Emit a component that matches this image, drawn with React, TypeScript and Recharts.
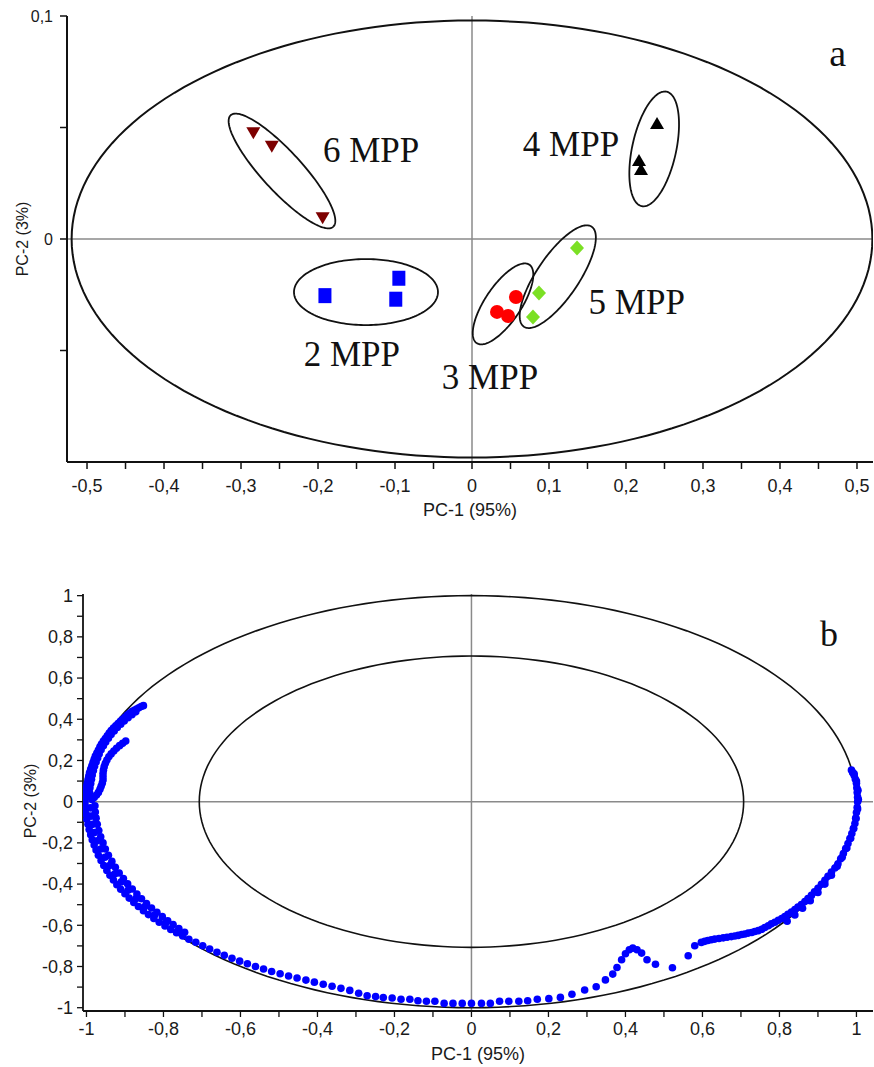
import React from "react";
import { ScatterChart, Scatter, XAxis, YAxis, ReferenceLine } from "recharts";

type Pt = [number, number];

// ---------- (a) PCA scores ----------
const scores6MPP: Pt[] = [[-0.284, 0.0474], [-0.26, 0.0414], [-0.194, 0.0093]];
const scores2MPP: Pt[] = [[-0.191, -0.0254], [-0.095, -0.0176], [-0.099, -0.027]];
const scores3MPP: Pt[] = [[0.0325, -0.0327], [0.0468, -0.0345], [0.0571, -0.026]];
const scores4MPP: Pt[] = [[0.2403, 0.052], [0.2169, 0.0354], [0.2195, 0.0314]];
const scores5MPP: Pt[] = [[0.1364, -0.004], [0.087, -0.0242], [0.0792, -0.035]];

// cluster ellipses: centre x, centre y, semi-axis u (x, y), semi-axis v (x, y)
const ellipse6MPP = [-0.2468, 0.0305, 0.0666, -0.025, -0.0191, -0.00607];
const ellipse2MPP = [-0.1377, -0.0238, 0.0935, 0, 0, 0.0148];
const ellipse3MPP = [0.0403, -0.0291, 0.0342, 0.01758, 0.0194, -0.0045];
const ellipse5MPP = [0.1114, -0.0169, 0.044, 0.02242, 0.0226, -0.00529];
const ellipse4MPP = [0.2366, 0.0404, 0.0162, 0.02565, 0.0279, -0.00211];
const ellipseHotelling = [0, 0, 0.52, 0, 0, 0.098];

const groupLabels = ["6 MPP", "4 MPP", "2 MPP", "3 MPP", "5 MPP"];
const groupLabelX = [-0.131, 0.1286, -0.156, 0.0234, 0.214];
const groupLabelY = [0.0399, 0.0422, -0.052, -0.0623, -0.0283];

const topXTicks = [-0.5, -0.45, -0.4, -0.35, -0.3, -0.25, -0.2, -0.15, -0.1, -0.05, 0, 0.05, 0.1, 0.15, 0.2, 0.25, 0.3, 0.35, 0.4, 0.45, 0.5];
const topYTicks = [-0.05, 0, 0.05, 0.1];
const topYLabelled = [0, 0.1];

// ---------- (b) correlation loadings ----------
const loadingsUpperLeft: Pt[] = [
  [-0.852, 0.466], [-0.858, 0.462], [-0.864, 0.456], [-0.87, 0.45], [-0.876, 0.444], [-0.882, 0.437],
  [-0.888, 0.429], [-0.894, 0.42], [-0.9, 0.41], [-0.906, 0.4], [-0.912, 0.39], [-0.918, 0.379],
  [-0.924, 0.368], [-0.93, 0.357], [-0.936, 0.345], [-0.941, 0.333], [-0.946, 0.32], [-0.951, 0.307],
  [-0.956, 0.294], [-0.961, 0.28], [-0.965, 0.266], [-0.969, 0.251], [-0.973, 0.236], [-0.977, 0.221],
  [-0.98, 0.206], [-0.983, 0.19], [-0.986, 0.174], [-0.989, 0.158], [-0.992, 0.141], [-0.994, 0.124],
  [-0.996, 0.107], [-0.998, 0.09], [-1.0, 0.073], [-1.001, 0.056], [-1.002, 0.039], [-1.003, 0.022],
  [-1.004, 0.005],
  [-0.872, 0.436], [-0.882, 0.422], [-0.892, 0.407], [-0.902, 0.392], [-0.911, 0.376], [-0.92, 0.36],
  [-0.928, 0.343], [-0.936, 0.326], [-0.943, 0.308], [-0.95, 0.29], [-0.956, 0.271], [-0.962, 0.252],
  [-0.967, 0.232], [-0.971, 0.212], [-0.975, 0.192], [-0.979, 0.172], [-0.982, 0.151], [-0.985, 0.13],
  [-0.987, 0.109], [-0.989, 0.088], [-0.991, 0.067], [-0.992, 0.046], [-0.993, 0.025],
  [-0.898, 0.294], [-0.906, 0.283], [-0.914, 0.272], [-0.922, 0.259], [-0.929, 0.246], [-0.936, 0.232],
  [-0.942, 0.218], [-0.947, 0.202], [-0.951, 0.186], [-0.954, 0.17], [-0.956, 0.153], [-0.957, 0.137],
  [-0.957, 0.121], [-0.957, 0.105], [-0.959, 0.09], [-0.962, 0.075], [-0.965, 0.06], [-0.969, 0.045],
  [-0.974, 0.032], [-0.98, 0.02], [-0.986, 0.01],
];
const loadingsLowerLeft: Pt[] = [
  [-1.004, -0.01], [-1.003, -0.035], [-1.001, -0.06], [-0.999, -0.085], [-0.996, -0.11], [-0.993, -0.135],
  [-0.989, -0.16], [-0.985, -0.185], [-0.98, -0.21], [-0.975, -0.235], [-0.969, -0.26], [-0.962, -0.285],
  [-0.955, -0.31], [-0.947, -0.334], [-0.939, -0.357], [-0.93, -0.38], [-0.921, -0.403], [-0.911, -0.425],
  [-0.9, -0.447], [-0.889, -0.468], [-0.877, -0.489], [-0.865, -0.509], [-0.852, -0.529], [-0.839, -0.548],
  [-0.825, -0.567], [-0.811, -0.585], [-0.796, -0.603], [-0.781, -0.62], [-0.766, -0.636], [-0.75, -0.652],
  [-0.734, -0.668],
  [-0.99, -0.03], [-0.988, -0.07], [-0.984, -0.11], [-0.979, -0.15], [-0.972, -0.19], [-0.963, -0.23],
  [-0.952, -0.27], [-0.94, -0.31], [-0.926, -0.35], [-0.91, -0.39], [-0.892, -0.43], [-0.871, -0.47],
  [-0.849, -0.51], [-0.823, -0.55], [-0.795, -0.59], [-0.764, -0.63],
  [-0.978, -0.02], [-0.977, -0.05], [-0.975, -0.08], [-0.972, -0.11], [-0.968, -0.14], [-0.963, -0.17],
  [-0.957, -0.2], [-0.951, -0.23], [-0.943, -0.26], [-0.934, -0.29], [-0.925, -0.318], [-0.915, -0.346],
  [-0.904, -0.373], [-0.893, -0.399], [-0.881, -0.424], [-0.869, -0.448], [-0.857, -0.471], [-0.844, -0.494],
  [-0.831, -0.516], [-0.817, -0.537], [-0.803, -0.558], [-0.789, -0.578], [-0.775, -0.597], [-0.76, -0.616],
  [-0.745, -0.634],
  [-0.716, -0.682], [-0.698, -0.699], [-0.68, -0.715], [-0.661, -0.731], [-0.642, -0.746], [-0.622, -0.76],
  [-0.602, -0.774], [-0.582, -0.787], [-0.561, -0.8], [-0.54, -0.812], [-0.519, -0.824], [-0.497, -0.835],
  [-0.475, -0.846], [-0.453, -0.856], [-0.43, -0.866], [-0.408, -0.876], [-0.385, -0.886], [-0.362, -0.896],
  [-0.339, -0.906], [-0.316, -0.916], [-0.293, -0.93],
];
const loadingsBottom: Pt[] = [
  [-0.271, -0.942], [-0.249, -0.946], [-0.229, -0.951], [-0.206, -0.953], [-0.183, -0.959], [-0.16, -0.959],
  [-0.139, -0.966], [-0.117, -0.969], [-0.095, -0.969], [-0.071, -0.979], [-0.048, -0.979], [-0.024, -0.979],
  [0, -0.979], [0.026, -0.979], [0.049, -0.979], [0.073, -0.969], [0.097, -0.969], [0.123, -0.969],
  [0.146, -0.966], [0.171, -0.959], [0.201, -0.956], [0.231, -0.95], [0.261, -0.935], [0.294, -0.914],
  [0.324, -0.898],
];
const loadingsBump: Pt[] = [
  [0.348, -0.865], [0.367, -0.837], [0.378, -0.805], [0.39, -0.767], [0.4, -0.738], [0.41, -0.719],
  [0.419, -0.711], [0.43, -0.719], [0.442, -0.735], [0.456, -0.767], [0.478, -0.789], [0.522, -0.806],
];
const loadingsRight: Pt[] = [
  [0.563, -0.748], [0.58, -0.699], [0.597, -0.683], [0.614, -0.674], [0.632, -0.667], [0.654, -0.661],
  [0.675, -0.655], [0.693, -0.649], [0.71, -0.642], [0.728, -0.635], [0.745, -0.626], [0.762, -0.611],
  [0.779, -0.593], [0.797, -0.576], [0.814, -0.558], [0.831, -0.536], [0.848, -0.512], [0.866, -0.485],
  [0.883, -0.455], [0.9, -0.42], [0.918, -0.382], [0.935, -0.342], [0.952, -0.301], [0.959, -0.277],
  [0.966, -0.252], [0.972, -0.228], [0.978, -0.203], [0.983, -0.179], [0.988, -0.155], [0.992, -0.13],
  [0.996, -0.106], [0.998, -0.08], [1.0, -0.053], [1.002, -0.027], [1.003, 0.0], [1.003, 0.022],
  [1.002, 0.045], [1.001, 0.067], [1.0, 0.089], [0.997, 0.11], [0.994, 0.128], [0.99, 0.142], [0.987, 0.154],
  [0.606, -0.678], [0.623, -0.67], [0.643, -0.664], [0.664, -0.658], [0.684, -0.652], [0.702, -0.645],
  [0.719, -0.638], [0.736, -0.63], [0.754, -0.619], [0.771, -0.602], [0.788, -0.585], [0.806, -0.567],
  [0.822, -0.547], [0.84, -0.524], [0.857, -0.499], [0.874, -0.47], [0.891, -0.438], [0.909, -0.401],
  [0.926, -0.362], [0.944, -0.322],
  [0.82, -0.58], [0.84, -0.55], [0.86, -0.517], [0.88, -0.481], [0.9, -0.441], [0.918, -0.4],
  [0.935, -0.357], [0.95, -0.313], [0.963, -0.27], [0.975, -0.225], [0.985, -0.178], [0.993, -0.13],
  [0.999, -0.082], [1.003, -0.035], [1.005, 0.01], [1.004, 0.055], [1.0, 0.1], [0.994, 0.135],
];
const circleOuter = [0, 0, 1, 0, 0, 1];
const circleInner = [0, 0, 0.707, 0, 0, 0.707];

const bottomTicks = [-1, -0.9, -0.8, -0.7, -0.6, -0.5, -0.4, -0.3, -0.2, -0.1, 0, 0.1, 0.2, 0.3, 0.4, 0.5, 0.6, 0.7, 0.8, 0.9, 1];

const SANS = "'Liberation Sans Narrow', 'Arial Narrow', 'Liberation Sans', Arial, sans-serif";
const SANS_REG = "'Liberation Sans', Arial, sans-serif";
const SERIF = "'Liberation Serif', 'Times New Roman', serif";

const toXY = (pts: Pt[]) => pts.map(([x, y]) => ({ x, y }));

// outline of an ellipse given by centre and two semi-axis vectors
const ellipsePoints = (e: number[]) => {
  const [cx, cy, ux, uy, vx, vy] = e;
  const out = [];
  for (let i = 0; i <= 180; i++) {
    const t = (i / 180) * Math.PI * 2;
    out.push({ x: cx + ux * Math.cos(t) + vx * Math.sin(t), y: cy + uy * Math.cos(t) + vy * Math.sin(t) });
  }
  return out;
};

const fmt = (v: number) => String(Math.round(v * 10) / 10).replace(".", ",");
const isTenth = (v: number) => Math.abs(v * 10 - Math.round(v * 10)) < 1e-6;
const isFifth = (v: number) => Math.round(v * 10) % 2 === 0;

const NoDot = () => <g />;

const DownTriangle = (p: any) => (
  <polygon points={`${p.cx - 7},${p.cy - 6} ${p.cx + 7},${p.cy - 6} ${p.cx},${p.cy + 6}`} fill={p.fill} />
);
const UpTriangle = (p: any) => (
  <polygon points={`${p.cx - 7},${p.cy + 6} ${p.cx + 7},${p.cy + 6} ${p.cx},${p.cy - 6}`} fill={p.fill} />
);
const Square = (p: any) => <rect x={p.cx - 6.5} y={p.cy - 7.5} width={13} height={15} fill={p.fill} />;
const Dot = (p: any) => <circle cx={p.cx} cy={p.cy} r={7} fill={p.fill} />;
const Diamond = (p: any) => (
  <polygon points={`${p.cx},${p.cy - 7.5} ${p.cx + 7},${p.cy} ${p.cx},${p.cy + 7.5} ${p.cx - 7},${p.cy}`} fill={p.fill} />
);
const SmallDot = (p: any) => <circle cx={p.cx} cy={p.cy} r={3.8} fill="#0000ff" />;
const TextMark = (size: number) => (p: any) => (
  <text x={p.cx} y={p.cy} textAnchor="middle" dominantBaseline="central" fontFamily={SERIF} fontSize={size} fill="#111">
    {p.payload.label}
  </text>
);

const axisText = { fill: "#1a1a1a", fontSize: 18, fontFamily: SANS };

const xTitle = (dy: number) => (props: any) => {
  const vb = props.viewBox;
  return (
    <text x={vb.x + vb.width / 2} y={vb.y + dy} textAnchor="middle" fontFamily={SANS} fontSize={18} fill="#1a1a1a">
      PC-1 (95%)
    </text>
  );
};
const yTitle = (x: number, mid: number, size: number) => () => (
  <text x={x} y={mid} transform={`rotate(-90 ${x} ${mid})`} textAnchor="middle" dominantBaseline="central" fontFamily={SANS_REG} fontSize={size} fill="#1a1a1a">
    PC-2 (3%)
  </text>
);

function ScoresChart() {
  const labels = groupLabels.map((label, i) => ({ x: groupLabelX[i], y: groupLabelY[i], label }));
  return (
    <ScatterChart width={874} height={540} margin={{ top: 16, right: 1, bottom: 0, left: 0 }}>
      <XAxis
        type="number"
        dataKey="x"
        domain={[-0.526, 0.5208]}
        allowDataOverflow
        ticks={topXTicks}
        interval={0}
        tickFormatter={(v: number) => (isTenth(v) ? fmt(v) : "")}
        height={78}
        tickSize={7}
        tickMargin={10}
        axisLine={{ stroke: "#111", strokeWidth: 2 }}
        tickLine={{ stroke: "#111", strokeWidth: 1.5 }}
        tick={axisText}
        label={xTitle(54)}
      />
      <YAxis
        type="number"
        dataKey="y"
        domain={[-0.1, 0.1]}
        allowDataOverflow
        ticks={topYTicks}
        interval={0}
        tickFormatter={(v: number) => (topYLabelled.includes(v) ? fmt(v) : "")}
        width={67}
        tickSize={7}
        tickMargin={7}
        axisLine={{ stroke: "#111", strokeWidth: 2 }}
        tickLine={{ stroke: "#111", strokeWidth: 1.5 }}
        tick={{ ...axisText, fontFamily: SANS_REG, fontSize: 16 }}
        label={yTitle(22, 239, 16)}
      />
      <ReferenceLine x={0} stroke="#8a8a8a" strokeWidth={1.5} />
      <ReferenceLine y={0} stroke="#8a8a8a" strokeWidth={1.5} />
      {[ellipseHotelling, ellipse6MPP, ellipse2MPP, ellipse3MPP, ellipse5MPP, ellipse4MPP].map((e, i) => (
        <Scatter
          key={i}
          data={ellipsePoints(e)}
          line={{ stroke: "#111", strokeWidth: i === 0 ? 2 : 1.8 }}
          lineType="joint"
          shape={NoDot}
          isAnimationActive={false}
        />
      ))}
      <Scatter data={toXY(scores6MPP)} fill="#7d0000" shape={DownTriangle} isAnimationActive={false} />
      <Scatter data={toXY(scores2MPP)} fill="#0000ff" shape={Square} isAnimationActive={false} />
      <Scatter data={toXY(scores3MPP)} fill="#ff0000" shape={Dot} isAnimationActive={false} />
      <Scatter data={toXY(scores5MPP)} fill="#7be024" shape={Diamond} isAnimationActive={false} />
      <Scatter data={toXY(scores4MPP)} fill="#000000" shape={UpTriangle} isAnimationActive={false} />
      <Scatter data={labels} shape={TextMark(35)} isAnimationActive={false} />
      <Scatter data={[{ x: 0.475, y: 0.0835, label: "a" }]} shape={TextMark(38)} isAnimationActive={false} />
    </ScatterChart>
  );
}

function LoadingsChart() {
  return (
    <ScatterChart width={874} height={507} margin={{ top: 34, right: 1, bottom: 0, left: 0 }}>
      <XAxis
        type="number"
        dataKey="x"
        domain={[-1.009, 1.043]}
        allowDataOverflow
        ticks={bottomTicks}
        interval={0}
        tickFormatter={(v: number) => (isFifth(v) ? fmt(v) : "")}
        height={56}
        tickSize={6}
        tickMargin={5}
        axisLine={{ stroke: "#111", strokeWidth: 1.8 }}
        tickLine={{ stroke: "#111", strokeWidth: 1.3 }}
        tick={axisText}
        label={xTitle(49)}
      />
      <YAxis
        type="number"
        dataKey="y"
        domain={[-1.016, 1.008]}
        allowDataOverflow
        ticks={bottomTicks}
        interval={0}
        tickFormatter={(v: number) => (isFifth(v) ? fmt(v) : "")}
        width={83}
        tickSize={6}
        tickMargin={4}
        axisLine={{ stroke: "#111", strokeWidth: 1.8 }}
        tickLine={{ stroke: "#111", strokeWidth: 1.3 }}
        tick={axisText}
        label={yTitle(30, 241, 16)}
      />
      {[circleOuter, circleInner].map((e, i) => (
        <Scatter
          key={i}
          data={ellipsePoints(e)}
          line={{ stroke: "#111", strokeWidth: 1.6 }}
          lineType="joint"
          shape={NoDot}
          isAnimationActive={false}
        />
      ))}
      {[loadingsUpperLeft, loadingsLowerLeft, loadingsBottom, loadingsBump, loadingsRight].map((s, i) => (
        <Scatter key={"l" + i} data={toXY(s)} fill="#0000ff" shape={SmallDot} isAnimationActive={false} />
      ))}
      <ReferenceLine x={0} stroke="#8a8a8a" strokeWidth={1.5} />
      <ReferenceLine y={0} stroke="#8a8a8a" strokeWidth={1.5} />
      <Scatter data={[{ x: 0.929, y: 0.814, label: "b" }]} shape={TextMark(36)} isAnimationActive={false} />
    </ScatterChart>
  );
}

export default function App() {
  return (
    <div style={{ position: "absolute", left: 0, top: 0, width: 874, height: 1067, background: "#fff" }}>
      <div style={{ position: "absolute", left: 0, top: 0 }}>
        <ScoresChart />
      </div>
      <div style={{ position: "absolute", left: 0, top: 560 }}>
        <LoadingsChart />
      </div>
    </div>
  );
}
